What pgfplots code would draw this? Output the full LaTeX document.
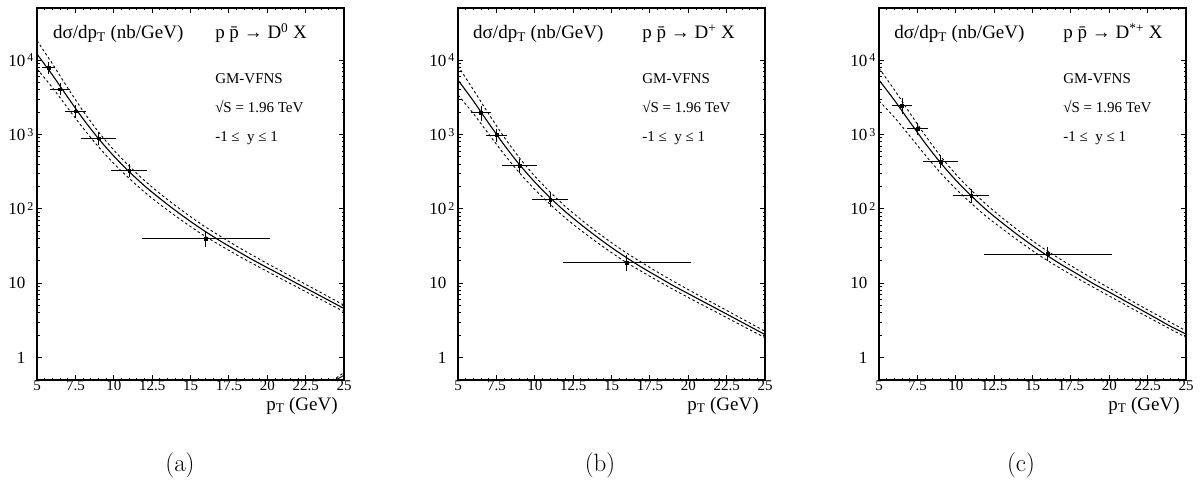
\documentclass[border=0pt]{standalone}
\usepackage{pgfplots}
\pgfplotsset{compat=1.18}
\usepackage{fontspec}
\newfontfamily\tms{Liberation Serif}
\newcommand\xt[1]{\mbox{\tms\fontsize{15}{15}\selectfont #1}}
\newcommand\yt[2]{\mbox{\tms\fontsize{17}{17}\selectfont #1\rlap{\fontsize{12}{12}\selectfont\raisebox{0.8ex}{\,#2}}}}
\newcommand\myopts{}

\tikzset{
 mycentral/.style={black, line width=1.1pt, smooth},
 myband/.style={black, line width=0.9pt, dash pattern=on 2.5pt off 2.5pt, smooth},
 mytitle/.style={font=\tms\fontsize{19}{19}\selectfont, anchor=base west, inner sep=0pt},
 myinfo/.style={font=\tms\fontsize{15}{15}\selectfont, anchor=base west, inner sep=0pt},
 myxlab/.style={font=\tms\fontsize{19}{19}\selectfont, anchor=base east, inner sep=0pt},
}
\pgfplotsset{
 mydata/.style={black, only marks, mark=square*, mark size=1.4pt,
   error bars/x dir=both, error bars/x explicit,
   error bars/y dir=both, error bars/y explicit,
   error bars/error bar style={line width=0.8pt},
   error bars/error mark options={mark size=2.5pt, line width=0.8pt}},
}

\begin{document}
\begin{tikzpicture}
\useasboundingbox (0,0) rectangle (1201pt,480pt);

% ---------------- (a) D0 ----------------
\begin{semilogyaxis}[at={(37pt,100pt)}, anchor=south west,
  scale only axis, width=307pt, height=372pt,
  xmin=5, xmax=25, ymin=0.5, ymax=50000, clip=false,
  xtick={5,7.5,10,12.5,15,17.5,20,22.5,25},
  xticklabels={\xt{5},\xt{7.5},\xt{10},\xt{12.5},\xt{15},\xt{17.5},\xt{20},\xt{22.5},\xt{25}},
  minor x tick num=4,
  ytick={1,10,100,1000,10000},
  yticklabels={\yt{1}{},\yt{10}{},\yt{10}{2},\yt{10}{3},\yt{10}{4}},
  tick align=inside, major tick length=5pt, minor tick length=2.5pt,
  axis line style={line width=1.5pt}, tick style={black, line width=0.8pt},
  xticklabel style={yshift=3pt}, yticklabel style={xshift=-8pt}]
\addplot[mycentral] table {
x y
5 12000
6 6310
7 3162
8 1622
9 881
10 513
11 316
12 204
13 138
14 95.5
15 67.6
16 49.0
17 36.3
18 27.5
19 20.9
20 16.2
21 12.6
22 9.77
23 7.59
24 5.89
25 4.57
};
\addplot[myband] table {
x y
5 18197
6 8913
7 4217
8 2065
9 1084
10 617
11 376
12 240
13 161
14 111
15 78.5
16 56.6
18 31.5
20 18.4
22 11.0
25 5.07
};
\addplot[myband] table {
x y
5 7586
6 4266
7 2265
8 1216
9 684
10 407
11 257
12 168
13 115
14 80.9
15 57.8
16 42.2
18 24.1
20 14.4
22 8.75
25 4.15
};
\addplot[myband] coordinates {(24.2,0.5) (24.6,0.55) (25,0.63)};
\addplot[black, line width=0.9pt] coordinates {(24.45,0.5) (24.75,0.54) (25,0.58)};
\addplot[mydata] table[x=x, y=y, x error=ex, y error=ey] {
x y ex ey
5.75 7837 0.25 900
6.5 4056 0.5 450
7.5 2052 0.5 240
9 890 1 100
11 327 1 38
16 39.5 4 6
};
\node[mytitle] at (rel axis cs:0.052,0.917) {dσ/dp\textsubscript{T} (nb/GeV)};
\node[mytitle] at (rel axis cs:0.580,0.917) {p \={p} → D\textsuperscript{0} X};
\node[myinfo] at (rel axis cs:0.580,0.798) {GM-VFNS};
\node[myinfo] at (rel axis cs:0.580,0.720) {√S = 1.96 TeV};
\node[myinfo] at (rel axis cs:0.580,0.640) {-1 ≤~ y ≤ 1};
\node[myxlab] at (rel axis cs:0.98,-0.081) {p\textsubscript{T} (GeV)};
\end{semilogyaxis}

% ---------------- (b) D+ ----------------
\begin{semilogyaxis}[at={(458pt,100pt)}, anchor=south west,
  scale only axis, width=307pt, height=372pt,
  xmin=5, xmax=25, ymin=0.5, ymax=50000, clip=false,
  xtick={5,7.5,10,12.5,15,17.5,20,22.5,25},
  xticklabels={\xt{5},\xt{7.5},\xt{10},\xt{12.5},\xt{15},\xt{17.5},\xt{20},\xt{22.5},\xt{25}},
  minor x tick num=4,
  ytick={1,10,100,1000,10000},
  yticklabels={\yt{1}{},\yt{10}{},\yt{10}{2},\yt{10}{3},\yt{10}{4}},
  tick align=inside, major tick length=5pt, minor tick length=2.5pt,
  axis line style={line width=1.5pt}, tick style={black, line width=0.8pt},
  xticklabel style={yshift=3pt}, yticklabel style={xshift=-8pt}]
\addplot[mycentral] table {
x y
5 5370
6 2818
7 1413
8 725
9 394
10 229
11 141
12 91.2
13 61.7
14 42.7
15 30.2
16 21.9
17 16.2
18 12.3
19 9.33
20 7.24
21 5.62
22 4.37
23 3.39
24 2.63
25 2.04
};
\addplot[myband] table {
x y
5 8318
6 3981
7 1884
8 923
9 484
10 275
11 168
12 107
13 72.1
14 49.7
15 35.1
16 25.3
18 14.1
20 8.20
22 4.90
25 2.26
};
\addplot[myband] table {
x y
5 3388
6 1905
7 1012
8 543
9 305
10 182
11 115
12 75.0
13 51.5
14 36.1
15 25.8
16 18.8
18 10.8
20 6.43
22 3.91
25 1.85
};
\addplot[mydata] table[x=x, y=y, x error=ex, y error=ey] {
x y ex ey
6.5 1947 0.5 300
7.5 980 0.5 130
9 380 1 55
11 134 1 20
16 19.0 4 3
};
\node[mytitle] at (rel axis cs:0.049,0.917) {dσ/dp\textsubscript{T} (nb/GeV)};
\node[mytitle] at (rel axis cs:0.60,0.917) {p \={p} → D\textsuperscript{+} X};
\node[myinfo] at (rel axis cs:0.60,0.798) {GM-VFNS};
\node[myinfo] at (rel axis cs:0.60,0.720) {√S = 1.96 TeV};
\node[myinfo] at (rel axis cs:0.60,0.640) {-1 ≤~ y ≤ 1};
\node[myxlab] at (rel axis cs:0.98,-0.081) {p\textsubscript{T} (GeV)};
\end{semilogyaxis}

% ---------------- (c) D*+ ----------------
\begin{semilogyaxis}[at={(879pt,100pt)}, anchor=south west,
  scale only axis, width=307pt, height=372pt,
  xmin=5, xmax=25, ymin=0.5, ymax=50000, clip=false,
  xtick={5,7.5,10,12.5,15,17.5,20,22.5,25},
  xticklabels={\xt{5},\xt{7.5},\xt{10},\xt{12.5},\xt{15},\xt{17.5},\xt{20},\xt{22.5},\xt{25}},
  minor x tick num=4,
  ytick={1,10,100,1000,10000},
  yticklabels={\yt{1}{},\yt{10}{},\yt{10}{2},\yt{10}{3},\yt{10}{4}},
  tick align=inside, major tick length=5pt, minor tick length=2.5pt,
  axis line style={line width=1.5pt}, tick style={black, line width=0.8pt},
  xticklabel style={yshift=3pt}, yticklabel style={xshift=-8pt}]
\addplot[mycentral] table {
x y
5 5370
6 2884
7 1479
8 767
9 417
10 243
11 150
12 96.6
13 65.3
14 45.2
15 32.0
16 23.2
17 17.2
18 13.0
19 9.77
20 7.59
21 5.82
22 4.47
23 3.43
24 2.63
25 2.07
};
\addplot[myband] table {
x y
5 7762
6 3981
7 1950
8 977
9 513
10 292
11 178
12 114
13 76.4
14 52.6
15 37.2
16 26.8
18 14.9
20 8.59
22 5.01
25 2.29
};
\addplot[myband] table {
x y
5 2818
6 1698
7 955
8 531
9 305
10 186
11 119
12 78.5
13 54.6
14 38.3
15 27.4
16 20.0
18 11.4
20 6.73
22 4.00
25 1.87
};
\addplot[mydata] table[x=x, y=y, x error=ex, y error=ey] {
x y ex ey
6.5 2421 0.5 400
7.5 1193 0.5 130
9 434 1 55
11 151 1 20
16 24.7 4 3.5
};
\node[mytitle] at (rel axis cs:0.049,0.917) {dσ/dp\textsubscript{T} (nb/GeV)};
\node[mytitle] at (rel axis cs:0.60,0.917) {p \={p} → D\textsuperscript{*+} X};
\node[myinfo] at (rel axis cs:0.60,0.798) {GM-VFNS};
\node[myinfo] at (rel axis cs:0.60,0.720) {√S = 1.96 TeV};
\node[myinfo] at (rel axis cs:0.60,0.640) {-1 ≤~ y ≤ 1};
\node[myxlab] at (rel axis cs:0.98,-0.081) {p\textsubscript{T} (GeV)};
\end{semilogyaxis}

\node[font=\fontsize{25}{25}\selectfont] at (180pt,15pt) {(a)};
\node[font=\fontsize{25}{25}\selectfont] at (600pt,15pt) {(b)};
\node[font=\fontsize{25}{25}\selectfont] at (1021pt,15pt) {(c)};
\end{tikzpicture}
\end{document}
